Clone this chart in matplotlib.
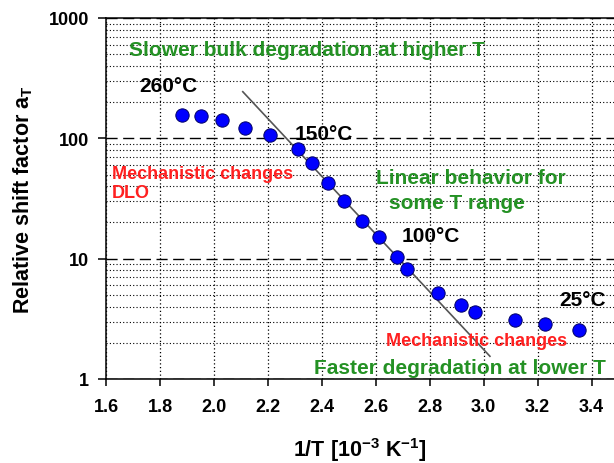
import numpy as np
import matplotlib
matplotlib.use("Agg")
import matplotlib.pyplot as plt
from matplotlib.ticker import FixedLocator, FuncFormatter, LogLocator, NullFormatter

plt.rcParams['font.family'] = ['Liberation Sans', 'DejaVu Sans']
plt.rcParams['mathtext.fontset'] = 'custom'
plt.rcParams['mathtext.rm'] = 'Liberation Sans'
plt.rcParams['mathtext.bf'] = 'Liberation Sans:bold'
plt.rcParams['mathtext.it'] = 'Liberation Sans:italic'

# ---- data ----
inv_T = [1.881, 1.951, 2.030, 2.116, 2.208, 2.311, 2.365, 2.424, 2.483, 2.548,
         2.611, 2.680, 2.717, 2.832, 2.915, 2.968, 3.116, 3.226, 3.355]
shift_factor = [156, 152, 141, 122, 107, 81.5, 62.4, 42.8, 30.3, 20.6,
                15.1, 10.3, 8.26, 5.15, 4.12, 3.62, 3.07, 2.86, 2.57]
fit_x = [2.107, 3.023]
fit_y = [244, 1.545]
x_ticks = [1.6, 1.8, 2.0, 2.2, 2.4, 2.6, 2.8, 3.0, 3.2, 3.4]
y_ticks = [1, 10, 100, 1000]

GREEN = '#249124'
RED = '#ff2020'

fig = plt.figure(figsize=(6.14, 4.64), dpi=100)
L, R, T, B = 106, 614, 19, 380
ax = fig.add_axes([L / 614, 1 - B / 464, (R - L) / 614, (B - T) / 464])
ax.set_yscale('log')
ax.set_ylim(1, 1000)
ax.set_xlim(1.6, 1.6 + (R - L) / 269.8)

ax.xaxis.set_major_locator(FixedLocator(x_ticks))
ax.xaxis.set_major_formatter(FuncFormatter(lambda v, p: f"{v:.1f}"))
ax.yaxis.set_major_locator(FixedLocator(y_ticks))
ax.yaxis.set_major_formatter(FuncFormatter(lambda v, p: f"{v:g}"))
ax.yaxis.set_minor_locator(LogLocator(base=10, subs=np.arange(2, 10)))
ax.yaxis.set_minor_formatter(NullFormatter())

ax.tick_params(axis='both', which='major', labelsize=13, width=1.1, direction='out', colors='black')
ax.tick_params(axis='y', which='major', length=6, pad=6)
ax.tick_params(axis='x', which='major', length=5, pad=9)
ax.tick_params(which='minor', length=0)
for lbl in ax.get_xticklabels() + ax.get_yticklabels():
    lbl.set_fontweight('bold')

ax.yaxis.grid(True, which='minor', linestyle=(0, (1, 2)), color='black', linewidth=0.8)
ax.yaxis.grid(True, which='major', linestyle=(0, (8, 4)), color='black', linewidth=1.0)
ax.xaxis.grid(True, which='major', linestyle=(0, (1, 2)), color='black', linewidth=0.9)
ax.set_axisbelow(True)

ax.spines['right'].set_visible(False)
for s in ['left', 'bottom', 'top']:
    ax.spines[s].set_linewidth(1.1)

ax.plot(fit_x, fit_y, color='#555555', linewidth=1.2, zorder=3)
ax.plot(inv_T, shift_factor, 'o', markersize=9.6, markerfacecolor='#0000ff',
        markeredgecolor='#000066', markeredgewidth=0.7, zorder=4, linestyle='none')

ax.set_xlabel(r"1/T [10$^{\mathbf{-3}}$ K$^{\mathbf{-1}}$]", fontsize=15.5, fontweight='bold', labelpad=14)
ax.set_ylabel(r"Relative shift factor a$_{\mathbf{T}}$", fontsize=15.5, fontweight='bold', labelpad=10)


def px(xp, yp):
    return ((xp - L) / (R - L), (B - yp) / (B - T))


def txt(s, xp, yp, ha='left', **kw):
    fx, fy = px(xp, yp)
    ax.text(fx, fy, s, transform=ax.transAxes, ha=ha, va='center', zorder=5, **kw)


txt("Slower bulk degradation at higher T", 129, 51, color=GREEN, fontsize=15, fontweight='bold')
txt("260°C", 139, 87, color='black', fontsize=15, fontweight='bold')
txt("150°C", 295, 135, color='black', fontsize=15, fontweight='bold')
txt("Mechanistic changes", 112, 175, color=RED, fontsize=13, fontweight='bold')
txt("DLO", 112, 194, color=RED, fontsize=13, fontweight='bold')
txt("Linear behavior for", 471, 179, ha='center', color=GREEN, fontsize=15, fontweight='bold')
txt("some T range", 457, 204, ha='center', color=GREEN, fontsize=15, fontweight='bold')
txt("100°C", 402, 237, color='black', fontsize=15, fontweight='bold')
txt("25°C", 559, 300, color='black', fontsize=15, fontweight='bold')
txt("Mechanistic changes", 386, 341, color=RED, fontsize=13, fontweight='bold')
txt("Faster degradation at lower T", 314, 369, color=GREEN, fontsize=15, fontweight='bold')

fig.savefig("out.png", dpi=100)
